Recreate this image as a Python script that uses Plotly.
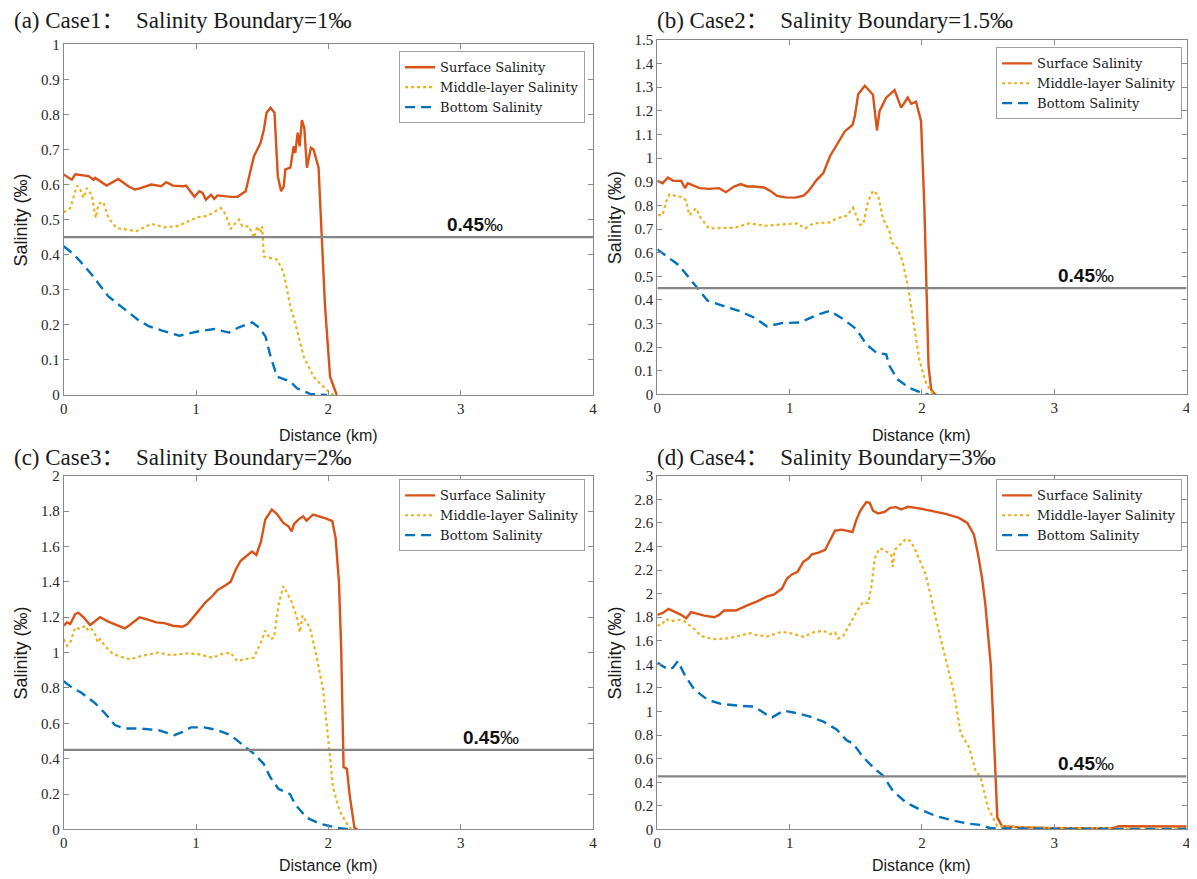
import plotly.graph_objects as go

# The page body keeps the browser's default 8px margin, so the figure is drawn
# 8px right/down of the page origin: size and positions are compensated for that.
PAGE_W, PAGE_H = 1197, 879
BODY_MARGIN = 8
W, H = PAGE_W - BODY_MARGIN, PAGE_H

# ---------------- data ----------------
THRESH = 0.45
X_MIN, X_MAX = 0, 4
LABEL_X = [2.88, 3.01, 3.0, 3.01]
SERIES_NAMES = ["Surface Salinity", "Middle-layer Salinity", "Bottom Salinity"]
TITLES = ["(a)\u00a0Case1：\u00a0\u00a0Salinity Boundary=1‰",
          "(b)\u00a0Case2：\u00a0\u00a0Salinity Boundary=1.5‰",
          "(c)\u00a0Case3：\u00a0\u00a0Salinity Boundary=2‰",
          "(d)\u00a0Case4：\u00a0\u00a0Salinity Boundary=3‰"]
Y_MAX = [1.0, 1.5, 2.0, 3.0]
Y_DTICK = [0.1, 0.1, 0.2, 0.2]

# Panel (a)
a_surf_x = [0, 0.062, 0.088, 0.188, 0.225, 0.238, 0.325, 0.413, 0.488, 0.538, 0.575, 0.662, 0.737,
            0.775, 0.825, 0.9, 0.925, 0.988, 1.025, 1.05, 1.075, 1.113, 1.138, 1.163, 1.263, 1.313,
            1.375, 1.438, 1.488, 1.513, 1.533, 1.563, 1.593, 1.618, 1.643, 1.663, 1.675, 1.713,
            1.738, 1.75, 1.768, 1.783, 1.80, 1.818, 1.838, 1.868, 1.888, 1.926, 1.95, 1.975,
            2.013, 2.063]
a_surf_y = [0.629, 0.614, 0.629, 0.624, 0.614, 0.619, 0.597, 0.616, 0.595, 0.586, 0.589, 0.600, 0.595,
            0.607, 0.597, 0.595, 0.597, 0.565, 0.581, 0.576, 0.557, 0.571, 0.559, 0.569, 0.565, 0.565,
            0.581, 0.681, 0.719, 0.757, 0.805, 0.819, 0.805, 0.624, 0.581, 0.595, 0.643, 0.648,
            0.709, 0.690, 0.748, 0.709, 0.784, 0.762, 0.648, 0.705, 0.700, 0.648, 0.452, 0.252,
            0.052, 0.0]
a_mid_x = [0, 0.05, 0.1, 0.125, 0.15, 0.175, 0.213, 0.243, 0.263, 0.3, 0.338, 0.4, 0.55, 0.663, 0.763,
           0.863, 1.013, 1.088, 1.188, 1.225, 1.263, 1.288, 1.325, 1.35, 1.4, 1.438, 1.463, 1.488,
           1.5, 1.513, 1.613, 1.663, 1.713, 1.75, 1.813, 1.888, 1.988, 2.038]
a_mid_y = [0.521, 0.533, 0.597, 0.586, 0.562, 0.590, 0.569, 0.505, 0.545, 0.550, 0.505, 0.476, 0.467,
           0.488, 0.478, 0.482, 0.507, 0.511, 0.533, 0.514, 0.473, 0.486, 0.500, 0.481, 0.481, 0.448,
           0.481, 0.462, 0.481, 0.395, 0.386, 0.348, 0.252, 0.205, 0.110, 0.052, 0.014, 0.0]
a_bot_x = [0, 0.063, 0.113, 0.213, 0.338, 0.463, 0.563, 0.638, 0.738, 0.875, 1.013, 1.138, 1.25,
           1.325, 1.425, 1.475, 1.525, 1.563, 1.613, 1.713, 1.763, 1.863, 1.988]
a_bot_y = [0.424, 0.405, 0.386, 0.343, 0.281, 0.243, 0.214, 0.197, 0.184, 0.169, 0.181, 0.188, 0.178,
           0.193, 0.207, 0.193, 0.167, 0.110, 0.052, 0.038, 0.019, 0.003, 0.0]

# Panel (b)
b_surf_x = [0, 0.04, 0.08, 0.12, 0.18, 0.21, 0.23, 0.28, 0.32, 0.39, 0.467, 0.518, 0.58, 0.63, 0.68,
            0.73, 0.805, 0.855, 0.905, 0.968, 1.043, 1.105, 1.14, 1.205, 1.255, 1.305, 1.368, 1.418,
            1.475, 1.493, 1.518, 1.568, 1.63, 1.64, 1.66, 1.68, 1.73, 1.793, 1.843, 1.893, 1.92,
            1.955, 1.993, 2.018, 2.035, 2.05, 2.07, 2.10]
b_surf_y = [0.904, 0.894, 0.918, 0.904, 0.904, 0.873, 0.894, 0.884, 0.873, 0.870, 0.873, 0.856, 0.880,
            0.890, 0.880, 0.880, 0.876, 0.861, 0.840, 0.834, 0.833, 0.841, 0.859, 0.908, 0.937, 1.008,
            1.064, 1.114, 1.140, 1.178, 1.270, 1.306, 1.268, 1.214, 1.117, 1.200, 1.256, 1.288, 1.214,
            1.256, 1.230, 1.239, 1.157, 0.800, 0.447, 0.120, 0.020, 0.0]
b_mid_x = [0.005, 0.04, 0.067, 0.092, 0.14, 0.19, 0.217, 0.242, 0.292, 0.33, 0.392, 0.48, 0.58, 0.692,
           0.818, 0.93, 1.055, 1.118, 1.18, 1.305, 1.355, 1.43, 1.48, 1.53, 1.555, 1.593, 1.63, 1.668,
           1.705, 1.755, 1.768, 1.818, 1.855, 1.893, 1.93, 1.98, 2.03, 2.08, 2.11]
b_mid_y = [0.759, 0.759, 0.816, 0.847, 0.840, 0.835, 0.820, 0.759, 0.788, 0.745, 0.702, 0.705, 0.705,
           0.724, 0.714, 0.720, 0.724, 0.702, 0.724, 0.728, 0.745, 0.756, 0.790, 0.719, 0.719, 0.816,
           0.862, 0.845, 0.745, 0.688, 0.646, 0.617, 0.560, 0.461, 0.319, 0.148, 0.049, 0.005, 0.0]
b_bot_x = [0, 0.105, 0.155, 0.205, 0.305, 0.38, 0.492, 0.617, 0.73, 0.83, 0.942, 1.08, 1.205, 1.305,
           1.405, 1.505, 1.58, 1.655, 1.73, 1.755, 1.818, 1.905, 2.0, 2.05]
b_bot_y = [0.614, 0.568, 0.550, 0.518, 0.447, 0.397, 0.376, 0.354, 0.326, 0.288, 0.302, 0.305, 0.336,
           0.354, 0.319, 0.276, 0.212, 0.177, 0.170, 0.120, 0.063, 0.028, 0.006, 0.0]

# Panel (c)
c_surf_x = [0, 0.025, 0.05, 0.088, 0.112, 0.15, 0.2, 0.225, 0.275, 0.337, 0.4, 0.462, 0.5, 0.574,
            0.637, 0.699, 0.762, 0.824, 0.899, 0.936, 1.011, 1.074, 1.124, 1.161, 1.223, 1.261, 1.298,
            1.336, 1.386, 1.423, 1.456, 1.491, 1.523, 1.573, 1.61, 1.66, 1.698, 1.723, 1.74, 1.773,
            1.81, 1.835, 1.885, 1.935, 1.985, 2.03, 2.055, 2.08, 2.097, 2.115, 2.14, 2.16, 2.197, 2.22]
c_surf_y = [1.152, 1.171, 1.162, 1.219, 1.225, 1.200, 1.156, 1.171, 1.200, 1.175, 1.156, 1.137, 1.156,
            1.200, 1.186, 1.171, 1.167, 1.152, 1.146, 1.162, 1.229, 1.286, 1.320, 1.352, 1.381, 1.400,
            1.466, 1.518, 1.549, 1.571, 1.552, 1.629, 1.752, 1.809, 1.785, 1.733, 1.714, 1.686, 1.727,
            1.752, 1.771, 1.746, 1.781, 1.771, 1.758, 1.743, 1.647, 1.400, 1.019, 0.352, 0.343, 0.200,
            0.010, 0.0]
c_mid_x = [0, 0.025, 0.05, 0.088, 0.125, 0.162, 0.187, 0.212, 0.237, 0.257, 0.275, 0.312, 0.362, 0.412,
           0.5, 0.587, 0.712, 0.812, 0.936, 1.024, 1.124, 1.186, 1.261, 1.311, 1.361, 1.436, 1.486,
           1.523, 1.561, 1.59, 1.623, 1.66, 1.698, 1.723, 1.748, 1.765, 1.785, 1.805, 1.86, 1.91,
           1.96, 1.998, 2.01, 2.035, 2.085, 2.135, 2.172]
c_mid_y = [1.076, 1.038, 1.057, 1.143, 1.133, 1.152, 1.124, 1.133, 1.105, 1.057, 1.076, 1.038, 1.000,
           0.981, 0.962, 0.981, 1.000, 0.985, 0.996, 0.990, 0.971, 0.990, 1.000, 0.952, 0.962, 0.971,
           1.048, 1.124, 1.076, 1.086, 1.267, 1.377, 1.324, 1.286, 1.229, 1.190, 1.114, 1.209, 1.143,
           0.981, 0.790, 0.543, 0.429, 0.238, 0.105, 0.038, 0.0]
c_bot_x = [0, 0.05, 0.137, 0.237, 0.312, 0.387, 0.462, 0.562, 0.712, 0.837, 0.899, 0.961, 1.061, 1.161,
           1.261, 1.361, 1.436, 1.511, 1.561, 1.623, 1.71, 1.748, 1.835, 1.935, 2.06, 2.155]
c_bot_y = [0.838, 0.809, 0.771, 0.714, 0.657, 0.590, 0.571, 0.571, 0.562, 0.533, 0.552, 0.577, 0.577,
           0.562, 0.533, 0.476, 0.429, 0.371, 0.295, 0.229, 0.200, 0.143, 0.067, 0.032, 0.010, 0.0]

# Panel (d)
d_surf_x = [0, 0.042, 0.085, 0.13, 0.18, 0.218, 0.255, 0.305, 0.355, 0.43, 0.467, 0.505, 0.593, 0.68,
            0.755, 0.83, 0.88, 0.942, 0.98, 1.017, 1.06, 1.105, 1.143, 1.168, 1.218, 1.268, 1.305,
            1.343, 1.393, 1.43, 1.475, 1.505, 1.535, 1.58, 1.605, 1.63, 1.668, 1.718, 1.76, 1.805,
            1.843, 1.893, 1.98, 2.08, 2.18, 2.28, 2.343, 2.393, 2.425, 2.455, 2.48, 2.52, 2.54,
            2.555, 2.57, 2.605, 2.7, 3.0, 3.44, 3.49, 3.8, 4.0]
d_surf_y = [1.820, 1.837, 1.871, 1.848, 1.820, 1.791, 1.843, 1.828, 1.814, 1.800, 1.820, 1.857, 1.857,
            1.900, 1.934, 1.977, 1.991, 2.043, 2.128, 2.163, 2.186, 2.271, 2.300, 2.334, 2.348, 2.371,
            2.457, 2.534, 2.543, 2.534, 2.523, 2.628, 2.705, 2.777, 2.771, 2.705, 2.680, 2.694, 2.728,
            2.734, 2.714, 2.737, 2.723, 2.700, 2.677, 2.643, 2.600, 2.500, 2.328, 2.128, 1.900, 1.400,
            0.900, 0.450, 0.100, 0.028, 0.020, 0.010, 0.010, 0.028, 0.025, 0.025]
d_mid_x = [0, 0.025, 0.068, 0.1, 0.155, 0.205, 0.23, 0.28, 0.33, 0.418, 0.53, 0.63, 0.705, 0.743, 0.83,
           0.942, 1.005, 1.105, 1.18, 1.255, 1.305, 1.343, 1.368, 1.405, 1.455, 1.505, 1.555, 1.593,
           1.618, 1.643, 1.68, 1.718, 1.768, 1.78, 1.793, 1.83, 1.88, 1.918, 1.955, 2.03, 2.08, 2.13,
           2.18, 2.243, 2.293, 2.355, 2.405, 2.443, 2.5, 2.568, 3.0, 3.5, 4.0]
d_mid_y = [1.734, 1.730, 1.785, 1.765, 1.780, 1.765, 1.742, 1.700, 1.642, 1.614, 1.620, 1.642, 1.665,
           1.650, 1.637, 1.677, 1.665, 1.634, 1.671, 1.685, 1.657, 1.671, 1.620, 1.642, 1.742, 1.843,
           1.928, 1.920, 2.057, 2.300, 2.385, 2.370, 2.328, 2.228, 2.370, 2.408, 2.465, 2.443, 2.357,
           2.157, 1.900, 1.671, 1.443, 1.157, 0.814, 0.700, 0.500, 0.443, 0.185, 0.028, 0.010, 0.010,
           0.012]
d_bot_x = [0, 0.08, 0.117, 0.155, 0.205, 0.28, 0.38, 0.48, 0.63, 0.73, 0.83, 0.868, 0.955, 1.055, 1.155,
           1.255, 1.355, 1.43, 1.48, 1.555, 1.63, 1.705, 1.78, 1.88, 1.98, 2.105, 2.23, 2.355, 2.455,
           2.515, 3.0, 3.5, 4.0]
d_bot_y = [1.414, 1.357, 1.371, 1.428, 1.314, 1.185, 1.100, 1.065, 1.048, 1.043, 0.971, 0.951, 1.008,
           0.986, 0.957, 0.914, 0.848, 0.757, 0.728, 0.614, 0.528, 0.457, 0.328, 0.228, 0.171, 0.114,
           0.077, 0.048, 0.037, 0.010, 0.005, 0.005, 0.005]

PANEL_DATA = [
    [(a_surf_x, a_surf_y), (a_mid_x, a_mid_y), (a_bot_x, a_bot_y)],
    [(b_surf_x, b_surf_y), (b_mid_x, b_mid_y), (b_bot_x, b_bot_y)],
    [(c_surf_x, c_surf_y), (c_mid_x, c_mid_y), (c_bot_x, c_bot_y)],
    [(d_surf_x, d_surf_y), (d_mid_x, d_mid_y), (d_bot_x, d_bot_y)],
]

# ---------------- layout / styling ----------------
COLORS = ["#D95319", "#EDB120", "#0072BD"]
DASHES = ["solid", "3px,3px", "10px,6px"]
WIDTHS = [2.4, 2.2, 2.4]
AXIS_COLOR = "#8a8a8a"
TICK_FONT = dict(family="Liberation Serif, Times New Roman, serif", size=15, color="#262626")
SANS = "Liberation Sans, Arial, sans-serif"
SERIF = "Liberation Serif, Times New Roman, Noto Sans CJK SC, serif"
LEGEND_FONT = dict(family="DejaVu Serif, serif", size=13, color="#1a1a1a")

# positions below are in page pixels
BOXES = [(60, 593, 36.8, 394), (657.7, 1190.5, 32.4, 393.5),
         (60, 593, 476.3, 836.5), (657.7, 1190.5, 476.3, 836.5)]
TITLE_POS = [(8, 13), (655, 13), (8, 458), (655, 458)]
LEGEND_POS = [(585, 44), (1186, 40), (585, 480), (1186, 480)]
XTITLE_Y = [435, 435, 873, 873]
YTITLE_X = [17, 615, 17, 615]

fig = go.Figure()

def px2x(p):
    return (p - BODY_MARGIN) / W

def py2y(p):
    return 1 - (p - BODY_MARGIN) / H

annotations = []
for i in range(4):
    ax = "" if i == 0 else str(i + 1)
    xref = "x" + ax
    yref = "y" + ax
    legend_id = "legend" if i == 0 else "legend" + str(i + 1)
    for j, (xs, ys) in enumerate(PANEL_DATA[i]):
        fig.add_trace(go.Scatter(
            x=xs, y=ys, mode="lines", name=SERIES_NAMES[j],
            line=dict(color=COLORS[j], width=WIDTHS[j], dash=DASHES[j]),
            xaxis=xref, yaxis=yref, legend=legend_id, showlegend=True,
        ))
    # threshold line
    fig.add_trace(go.Scatter(
        x=[X_MIN, X_MAX], y=[THRESH, THRESH], mode="lines",
        line=dict(color="#858585", width=2.4), xaxis=xref, yaxis=yref,
        showlegend=False, hoverinfo="skip",
    ))
    L, R, T, B = BOXES[i]
    fig.update_layout(**{
        "xaxis" + ax: dict(
            domain=[px2x(L), px2x(R)], range=[X_MIN, X_MAX], dtick=1, tick0=0,
            showgrid=False, zeroline=False, showline=True, mirror="ticks",
            linecolor=AXIS_COLOR, linewidth=1, ticks="inside", ticklen=5,
            tickcolor=AXIS_COLOR, tickfont=TICK_FONT, anchor=yref,
            ticklabeloverflow="allow",
        ),
        "yaxis" + ax: dict(
            domain=[py2y(B), py2y(T)], range=[0, Y_MAX[i]], dtick=Y_DTICK[i], tick0=0,
            showgrid=False, zeroline=False, showline=True, mirror="ticks",
            linecolor=AXIS_COLOR, linewidth=1, ticks="inside", ticklen=5,
            tickcolor=AXIS_COLOR, tickfont=TICK_FONT, anchor=xref,
            ticklabeloverflow="allow",
        ),
        legend_id: dict(
            x=px2x(LEGEND_POS[i][0]), y=py2y(LEGEND_POS[i][1]),
            xanchor="right", yanchor="top",
            bgcolor="white", bordercolor="#a0a0a0", borderwidth=1,
            font=LEGEND_FONT, tracegroupgap=0, itemwidth=30,
        ),
    })
    # panel title
    annotations.append(dict(
        text=TITLES[i], x=px2x(TITLE_POS[i][0]), y=py2y(TITLE_POS[i][1]),
        xref="paper", yref="paper", xanchor="left", yanchor="middle",
        showarrow=False, font=dict(family=SERIF, size=23, color="#1a1a1a"),
    ))
    # axis titles
    annotations.append(dict(
        text="Distance (km)", x=px2x((L + R) / 2), y=py2y(XTITLE_Y[i]),
        xref="paper", yref="paper", xanchor="center", yanchor="middle",
        showarrow=False, font=dict(family=SANS, size=16, color="#1a1a1a"),
    ))
    annotations.append(dict(
        text="Salinity (‰)", x=px2x(YTITLE_X[i]), y=py2y((T + B) / 2),
        xref="paper", yref="paper", xanchor="center", yanchor="middle",
        textangle=-90, showarrow=False, font=dict(family=SANS, size=18, color="#1a1a1a"),
    ))
    # threshold label
    annotations.append(dict(
        text="<b>0.45</b>‰", x=LABEL_X[i], y=THRESH, xref=xref, yref=yref,
        xanchor="left", yanchor="bottom", yshift=0, showarrow=False,
        font=dict(family=SANS, size=19, color="#111111"),
    ))

fig.update_layout(
    width=W, height=H, margin=dict(l=0, r=0, t=0, b=0),
    paper_bgcolor="white", plot_bgcolor="white",
    annotations=annotations, showlegend=True,
)

fig.write_html("out.html")
